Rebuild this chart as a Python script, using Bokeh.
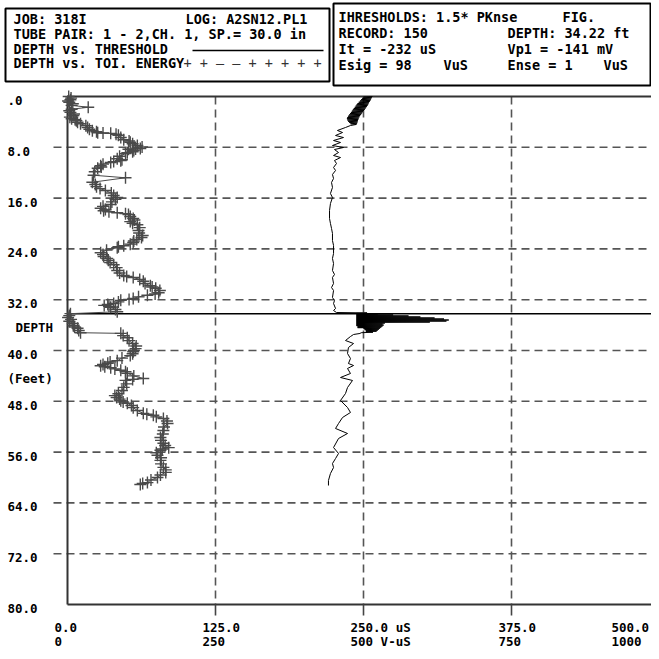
from bokeh.plotting import figure
from bokeh.models import Range1d, ColumnDataSource
from bokeh.core.properties import value
from bokeh.embed import file_html
from bokeh.resources import INLINE

# ---------------- data ----------------
# DEPTH vs. TOI. ENERGY  (V-uS, bottom scale) -- plotted with + markers
energy_depth_ft = [0.0, 0.25, 0.5, 0.7, 0.9, 1.15, 1.4, 1.7, 2.0, 2.25, 2.5, 2.75, 3.0, 3.25, 3.5,
                   3.65, 3.8, 4.05, 4.3, 4.6, 4.9, 5.15, 5.4, 5.55, 5.7, 5.75, 5.8, 5.95, 6.1, 6.45,
                   6.8, 7.0, 7.2, 7.45, 7.7, 7.95, 8.2, 8.25, 8.3, 8.5, 8.7, 8.85, 9.0, 9.4, 9.8,
                   9.95, 10.1, 10.25, 10.4, 10.65, 10.9, 11.1, 11.3, 11.85, 12.4, 12.8, 13.5, 13.85,
                   14.2, 14.5, 14.8, 15.2, 15.6, 15.9, 16.2, 16.6, 17.0, 17.3, 17.6, 17.8, 18.0,
                   18.15, 18.3, 18.45, 18.6, 18.9, 19.2, 19.45, 19.7, 19.95, 20.2, 20.65, 21.1,
                   21.5, 21.9, 22.2, 22.5, 22.75, 23.0, 23.25, 23.5, 23.65, 23.8, 24.2, 24.6, 24.9,
                   25.2, 25.5, 25.8, 26.15, 26.5, 26.95, 27.4, 27.8, 28.2, 28.35, 28.5, 28.8, 29.1,
                   29.45, 29.8, 30.0, 30.2, 30.55, 30.9, 31.1, 31.3, 31.55, 31.8, 31.95, 32.1, 32.35,
                   32.6, 32.75, 32.9, 33.05, 33.2, 33.55, 33.9, 34.2, 34.5, 34.8, 35.1, 35.4, 35.75,
                   36.1, 36.3, 36.5, 36.85, 37.2, 37.3, 37.65, 38.0, 38.45, 38.9, 39.3, 39.7, 39.95,
                   40.2, 40.5, 40.8, 41.2, 41.6, 41.8, 42.0, 42.2, 42.4, 42.55, 42.7, 42.9, 43.1,
                   43.35, 43.6, 44.0, 44.4, 44.55, 44.7, 45.25, 45.8, 46.3, 46.8, 47.1, 47.4, 47.65,
                   47.9, 48.1, 48.3, 48.65, 49.0, 49.45, 49.9, 50.05, 50.2, 50.45, 50.7, 51.1, 51.5,
                   52.05, 52.6, 53.15, 53.7, 54.15, 54.6, 54.95, 55.3, 55.5, 55.7, 56.1, 56.5, 56.9,
                   57.3, 57.85, 58.4, 58.8, 59.2, 59.6, 60.0, 60.4, 60.8, 60.95, 61.1]
energy_vus = [2, 6, 5, 1, 3, 9, 7, 35, 7, 3, 5, 11, 10, 4, 7,
              13, 15, 17, 22, 31, 34, 37, 42, 49, 51, 60, 73, 82, 86, 90,
              95, 104, 106, 110, 118, 126, 123, 115, 103, 112, 110, 101, 98, 88, 84,
              92, 90, 78, 73, 60, 56, 57, 51, 46, 44, 98, 42, 47,
              49, 55, 64, 74, 78, 84, 81, 75, 73, 60, 56, 64, 61,
              70, 84, 98, 103, 106, 111, 113, 106, 110, 118, 122, 120,
              121, 127, 125, 117, 112, 111, 106, 95, 86, 84, 66, 56, 60,
              61, 67, 69, 72, 78, 83, 84, 88, 95, 100, 111, 122, 128,
              131, 140, 143, 149, 156, 154, 148, 135, 120, 111, 104, 90, 86,
              78, 68, 62, 70, 73, 81, 84, 5, 3, 1, 6, 3, 9,
              10, 12, 17, 19, 22, 90, 94, 101, 104, 110, 116, 115, 112,
              111, 110, 106, 92, 84, 72, 68, 60, 56, 63, 73, 80, 90,
              98, 101, 112, 128, 110, 98, 100, 95, 92, 86, 80, 83, 88,
              90, 94, 101, 108, 111, 118, 128, 134, 145, 150, 162, 168, 169,
              163, 162, 161, 157, 158, 162, 165, 171, 160, 157, 150, 152, 158,
              157, 158, 162, 166, 166, 157, 152, 141, 135, 127, 123]

# DEPTH vs. THRESHOLD  (uS, top scale) -- solid line
thresh_depth_ft = [0.0, 0.1, 0.2, 0.3, 0.4, 0.5, 0.6, 0.7, 0.8, 0.9, 1.0, 1.1, 1.2, 1.3, 1.4,
                   1.5, 1.6, 1.7, 1.8, 1.9, 2.0, 2.1, 2.2, 2.3, 2.4, 2.5, 2.6, 2.7, 2.8, 2.9,
                   3.0, 3.1, 3.2, 3.3, 3.4, 3.5, 3.6, 3.7, 3.8, 3.9, 4.0, 4.1, 4.2, 4.3, 4.4,
                   4.57, 4.88, 5.35, 5.67, 6.14, 6.46, 6.93, 7.24, 7.72, 8.03, 8.35, 8.82, 9.29,
                   9.61, 10.08, 10.55, 11.18, 11.65, 12.28, 12.91, 13.54, 14.33, 15.28, 15.91,
                   16.85, 17.95, 19.21, 20.0, 20.79, 21.57, 22.68, 23.46, 24.72, 25.51, 26.30,
                   27.40, 28.03, 28.50, 29.45, 30.08, 30.55, 31.65, 32.13, 32.60, 33.39, 33.70,
                   34.02,
                   34.08, 34.16, 34.24, 34.32, 34.40, 34.48, 34.56, 34.64, 34.72, 34.80, 34.88,
                   34.96, 35.04, 35.12, 35.20, 35.28, 35.36, 35.44, 35.52, 35.60, 35.68, 35.76,
                   35.84, 35.92, 36.00, 36.08, 36.16, 36.24, 36.32, 36.40, 36.48, 36.56, 36.64,
                   36.72, 36.80, 36.88, 36.96, 37.04, 37.12, 37.20, 37.32, 37.48,
                   37.80, 38.43, 38.90, 39.53, 40.47, 41.26, 42.05, 42.36, 42.83, 43.62, 44.25,
                   44.72, 45.83, 46.77, 47.87, 48.98, 49.76, 50.55, 51.50, 52.28, 53.07, 53.86,
                   55.28, 56.22, 57.01, 57.80, 58.43, 59.37, 60.47, 61.26]
thresh_us = [257.6, 250.0, 257.0, 249.0, 256.4, 248.0, 255.8, 247.0, 255.2, 246.0, 254.6, 245.0,
             254.0, 244.2, 253.4, 243.4, 252.8, 242.6, 252.0, 241.8, 251.2, 241.0, 250.4, 240.2,
             249.6, 239.4, 248.8, 238.6, 248.0, 237.8, 247.2, 237.0, 246.6, 236.4, 246.0, 236.0,
             245.6, 236.4, 245.2, 237.0, 245.0, 238.0, 244.6, 239.0, 244.0,
             239.0, 234.8, 228.0, 232.3, 226.4, 233.1, 224.7, 230.6, 223.8, 233.1, 225.5, 228.9,
             224.7, 230.6, 225.5, 227.2, 224.7, 226.4, 223.8, 224.7, 223.0, 223.8, 222.1, 223.8,
             222.1, 221.3, 221.3, 222.1, 223.0, 223.8, 223.8, 224.7, 224.7, 223.8, 224.7,
             223.8, 225.5, 223.8, 224.7, 223.0, 224.7, 223.8, 225.5, 224.7, 226.4, 224.7,
             227.2,
             253.0, 244.0, 262.0, 244.0, 275.0, 244.0, 288.0, 244.0, 298.0, 244.0, 310.0,
             244.0, 318.0, 244.0, 322.0, 244.0, 320.0, 244.0, 306.0, 244.0, 268.0, 244.0,
             266.0, 244.0, 267.0, 244.0, 266.0, 245.0, 265.0, 245.0, 264.0, 250.0, 263.0,
             251.0, 262.0, 252.0, 261.0, 252.0, 258.0, 248.0, 247.0, 241.6,
             239.0, 234.8, 241.6, 237.3, 236.5, 239.0, 237.3, 241.6, 236.5, 239.0, 230.6,
             240.7, 236.5, 234.8, 230.6, 236.5, 239.0, 232.3, 228.9, 226.4, 236.5, 228.9,
             224.7, 228.9, 226.4, 223.8, 224.7, 222.1, 220.4, 220.4]
assert len(energy_depth_ft) == len(energy_vus)
assert len(thresh_depth_ft) == len(thresh_us)

record_depth_ft = 34.22

x_tick_us = [0, 125, 250, 375, 500]
x_labels_us = ["0.0", "125.0", "250.0 uS", "375.0", "500.0"]
x_labels_vus = ["0", "250", "500 V-uS", "750", "1000"]
x_grid_us = [125, 250, 375]
depth_ticks = [0, 8, 16, 24, 32, 40, 48, 56, 64, 72, 80]
depth_labels = [".0", "8.0", "16.0", "24.0", "32.0", "40.0", "48.0", "56.0", "64.0", "72.0", "80.0"]
depth_grid = [8, 16, 24, 32, 40, 48, 56, 64, 72]
depth_max = 80
depth_title = ["DEPTH", "(Feet)"]
depth_title_at = [36.4, 44.4]

header_left_a = ["JOB: 318I", "TUBE PAIR: 1 - 2,CH. 1, SP.= 30.0 in", "DEPTH vs. THRESHOLD", "DEPTH vs. TOI. ENERGY"]
header_left_b = ["LOG: A2SN12.PL1"]
header_right_a = ["IHRESHOLDS: 1.5* PKnse", "RECORD: 150", "It = -232 uS", "Esig = 98"]
header_right_b = ["FIG.", "DEPTH: 34.22 ft", "Vp1 = -141 mV", "Ense = 1"]
header_right_c = ["VuS", "VuS"]
legend_marks = "+ + \u2014 \u2014 + + + + +"

# ---------------- layout (picture pixels -> data) ----------------
W = H = 651
X0, SX = 67, 1.184   # pixel x of 0 uS, px per uS
Y0, SY = 96, 6.35    # pixel y of depth 0, px per ft


def px_x(X):
    return (X - X0) / SX


def px_y(Y):
    return (Y - Y0) / SY


x_lo, x_hi = px_x(0), px_x(W)
p = figure(width=W, height=H, output_backend="svg", toolbar_location=None,
           x_range=Range1d(x_lo, x_hi), y_range=Range1d(px_y(H), px_y(0)),
           x_axis_location=None, y_axis_location=None, min_border=0,
           outline_line_color=None, background_fill_color="white", border_fill_color="white")
p.extra_x_ranges = {"energy": Range1d(2 * x_lo, 2 * x_hi)}
p.xgrid.visible = False
p.ygrid.visible = False

FONT = value("DejaVu Sans Mono")
GRID = "#555555"

# dashed grid
p.segment(x0=px_x(53), x1=x_hi, y0=depth_grid, y1=depth_grid,
          line_color=GRID, line_width=1.6, line_dash="8 5")
p.segment(x0=x_grid_us, x1=x_grid_us, y0=0, y1=depth_max,
          line_color=GRID, line_width=1.6, line_dash="8 5")

# frame lines
p.segment(x0=[0, 0, 0], x1=[0, x_hi, x_hi], y0=[0, 0, depth_max], y1=[depth_max, 0, depth_max],
          line_color="#333333", line_width=2)
# bottom ticks
p.segment(x0=x_grid_us, x1=x_grid_us, y0=depth_max, y1=depth_max + 11 / SY,
          line_color="#444444", line_width=1.6)
# record depth line
p.segment(x0=0, x1=x_hi, y0=record_depth_ft, y1=record_depth_ft, line_color="black", line_width=1.5)

# series
src_e = ColumnDataSource(dict(d=energy_depth_ft, e=energy_vus))
p.line(x="e", y="d", source=src_e, x_range_name="energy", line_color="#4a4a4a", line_width=1)
p.scatter(x="e", y="d", source=src_e, x_range_name="energy", marker="cross", size=12,
          line_color="#4a4a4a", line_width=1.4)
p.line(x=thresh_us, y=thresh_depth_ft, line_color="black", line_width=1)

# axis labels
lab = dict(text_font=FONT, text_font_style="bold", text_font_size="12.5px",
           text_color="black", text_align="left", text_baseline="middle")
lab_w = 40
x_offs = [min(-13, W - lab_w - (X0 + t * SX)) for t in x_tick_us]
src_x = ColumnDataSource(dict(x=x_tick_us, a=x_labels_us, b=x_labels_vus, o=x_offs))
p.text(x="x", y=px_y(627), text="a", x_offset="o", source=src_x, **lab)
p.text(x="x", y=px_y(641), text="b", x_offset="o", source=src_x, **lab)
p.text(x=px_x(7), y=depth_ticks, text=depth_labels, y_offset=4, **lab)
p.text(x=[px_x(15), px_x(7)], y=depth_title_at, text=depth_title, **lab)

# header boxes
p.quad(left=[px_x(5), px_x(333)], right=[px_x(329), px_x(650)],
       top=[px_y(8), px_y(3)], bottom=[px_y(81), px_y(85)],
       fill_color=None, line_color="black", line_width=2)
hd = dict(text_font=FONT, text_font_style="bold", text_font_size="13.5px",
          text_color="black", text_align="left", text_baseline="middle")
rows_l = [px_y(18), px_y(33), px_y(48), px_y(62)]
rows_r = [px_y(16), px_y(32), px_y(48), px_y(64)]
p.text(x=px_x(13), y=rows_l, text=header_left_a, **hd)
p.text(x=px_x(185), y=rows_l[0], text=header_left_b, **hd)
p.text(x=px_x(338), y=rows_r, text=header_right_a, **hd)
p.text(x=[px_x(562), px_x(507), px_x(507), px_x(507)], y=rows_r, text=header_right_b, **hd)
p.text(x=[px_x(443), px_x(603)], y=[rows_r[3], rows_r[3]], text=header_right_c, **hd)
# legend samples
p.segment(x0=px_x(192), x1=px_x(323), y0=px_y(50), y1=px_y(50), line_color="black", line_width=1.5)
p.text(x=px_x(183), y=rows_l[3], text=[legend_marks], text_font=FONT, text_font_size="13.5px",
       text_color="#333333", text_align="left", text_baseline="middle")

open("out.html", "w").write(file_html(p, INLINE))
